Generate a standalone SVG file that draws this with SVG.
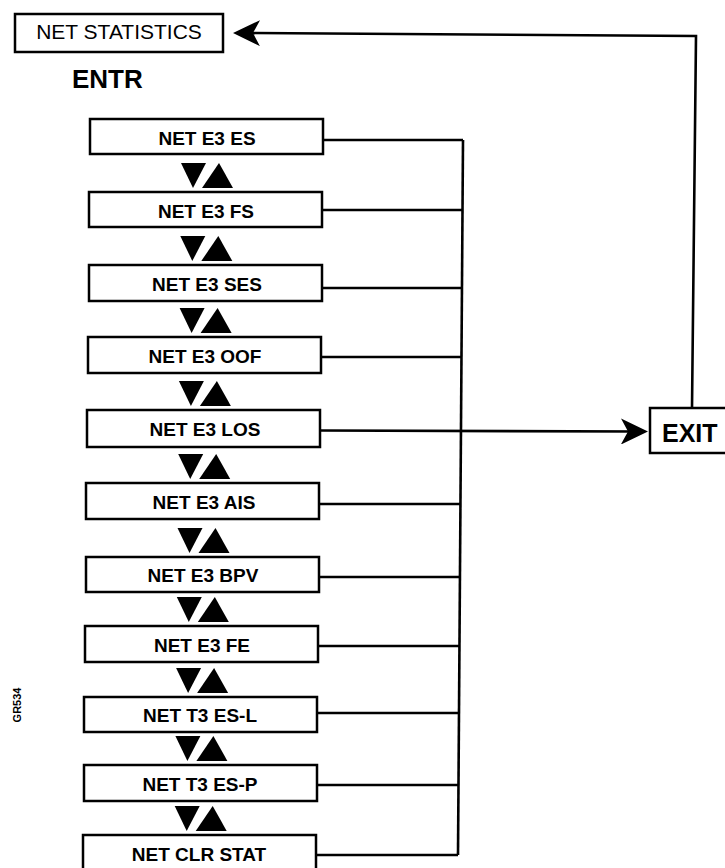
<svg xmlns="http://www.w3.org/2000/svg" width="725" height="868" viewBox="0 0 725 868">
<style>
.box{fill:#fff;stroke:#000;stroke-width:2.5}
.lbl{font-family:"Liberation Sans",Arial,sans-serif;font-weight:bold;font-size:19px;text-anchor:middle;fill:#000}
.ln{fill:none;stroke:#000;stroke-width:2.6}
.tri{fill:#000}
</style>
<defs>
<marker id="ah" markerUnits="userSpaceOnUse" viewBox="0 0 27 26" refX="17" refY="13" markerWidth="27" markerHeight="26" orient="auto">
<path d="M0,0 L27,13 L0,26 L7,13 z" fill="#000"/>
</marker>
</defs>
<rect width="725" height="868" fill="#fff"/>

<g id="net-statistics">
<rect class="box" x="15" y="14" width="208" height="38"/>
<text x="119" y="39" font-family="Liberation Sans,Arial,sans-serif" font-size="21" text-anchor="middle">NET STATISTICS</text>
</g>
<g id="entr">
<text x="72" y="88" font-family="Liberation Sans,Arial,sans-serif" font-size="26" font-weight="bold">ENTR</text>
</g>

<g id="connectors">
<line class="ln" x1="463" y1="140" x2="458" y2="855"/>
<line class="ln" x1="323" y1="140" x2="463" y2="140"/>
<line class="ln" x1="322" y1="210" x2="462.5" y2="210"/>
<line class="ln" x1="322" y1="288" x2="462" y2="288"/>
<line class="ln" x1="321" y1="357" x2="461.5" y2="357"/>
<line class="ln" x1="320" y1="430.5" x2="638" y2="431.5" marker-end="url(#ah)"/>
<line class="ln" x1="319" y1="504" x2="460.5" y2="504"/>
<line class="ln" x1="319" y1="577" x2="460" y2="577"/>
<line class="ln" x1="318" y1="646" x2="459.5" y2="646"/>
<line class="ln" x1="317" y1="713" x2="459" y2="713"/>
<line class="ln" x1="317" y1="785" x2="458.5" y2="785"/>
<line class="ln" x1="316" y1="855" x2="458" y2="855"/>
<polyline class="ln" points="692,408 696,36 243,33" marker-end="url(#ah)"/>
</g>

<g id="n1"><rect class="box" x="90" y="119" width="233" height="35"/><text class="lbl" x="207" y="145">NET E3 ES</text></g>
<g id="n2"><rect class="box" x="89" y="192" width="233" height="35"/><text class="lbl" x="206" y="218">NET E3 FS</text></g>
<g id="n3"><rect class="box" x="89" y="265" width="233" height="36"/><text class="lbl" x="207" y="291">NET E3 SES</text></g>
<g id="n4"><rect class="box" x="88" y="337" width="233" height="36"/><text class="lbl" x="205" y="363">NET E3 OOF</text></g>
<g id="n5"><rect class="box" x="87" y="410" width="233" height="37"/><text class="lbl" x="205" y="436">NET E3 LOS</text></g>
<g id="n6"><rect class="box" x="86" y="483" width="233" height="36"/><text class="lbl" x="204" y="509">NET E3 AIS</text></g>
<g id="n7"><rect class="box" x="86" y="557" width="233" height="35"/><text class="lbl" x="203" y="582">NET E3 BPV</text></g>
<g id="n8"><rect class="box" x="85" y="626" width="233" height="36"/><text class="lbl" x="202" y="652">NET E3 FE</text></g>
<g id="n9"><rect class="box" x="84" y="697" width="233" height="35"/><text class="lbl" x="200" y="722">NET T3 ES-L</text></g>
<g id="n10"><rect class="box" x="84" y="765" width="233" height="36"/><text class="lbl" x="200" y="791">NET T3 ES-P</text></g>
<g id="n11"><rect class="box" x="83" y="835" width="233" height="37"/><text class="lbl" x="199" y="861">NET CLR STAT</text></g>

<g id="exit">
<rect class="box" x="650" y="408" width="90" height="45"/>
<text x="662" y="442" font-family="Liberation Sans,Arial,sans-serif" font-size="25" font-weight="bold">EXIT</text>
</g>

<g id="nav-arrows">
<g transform="translate(0,0)"><polygon class="tri" points="181,163 206,163 193,188"/><polygon class="tri" points="202,188 233,188 219,163"/></g>
<g transform="translate(-0.7,73)"><polygon class="tri" points="181,163 206,163 193,188"/><polygon class="tri" points="202,188 233,188 219,163"/></g>
<g transform="translate(-1.4,145)"><polygon class="tri" points="181,163 206,163 193,188"/><polygon class="tri" points="202,188 233,188 219,163"/></g>
<g transform="translate(-2.1,218)"><polygon class="tri" points="181,163 206,163 193,188"/><polygon class="tri" points="202,188 233,188 219,163"/></g>
<g transform="translate(-2.8,291)"><polygon class="tri" points="181,163 206,163 193,188"/><polygon class="tri" points="202,188 233,188 219,163"/></g>
<g transform="translate(-3.5,365)"><polygon class="tri" points="181,163 206,163 193,188"/><polygon class="tri" points="202,188 233,188 219,163"/></g>
<g transform="translate(-4.2,434)"><polygon class="tri" points="181,163 206,163 193,188"/><polygon class="tri" points="202,188 233,188 219,163"/></g>
<g transform="translate(-4.9,505)"><polygon class="tri" points="181,163 206,163 193,188"/><polygon class="tri" points="202,188 233,188 219,163"/></g>
<g transform="translate(-5.6,573)"><polygon class="tri" points="181,163 206,163 193,188"/><polygon class="tri" points="202,188 233,188 219,163"/></g>
<g transform="translate(-6.3,643)"><polygon class="tri" points="181,163 206,163 193,188"/><polygon class="tri" points="202,188 233,188 219,163"/></g>
</g>

<g id="figure-id">
<text transform="translate(21,705) rotate(-90)" font-family="Liberation Sans,Arial,sans-serif" font-size="11" font-weight="bold" text-anchor="middle">GR534</text>
</g>
</svg>
